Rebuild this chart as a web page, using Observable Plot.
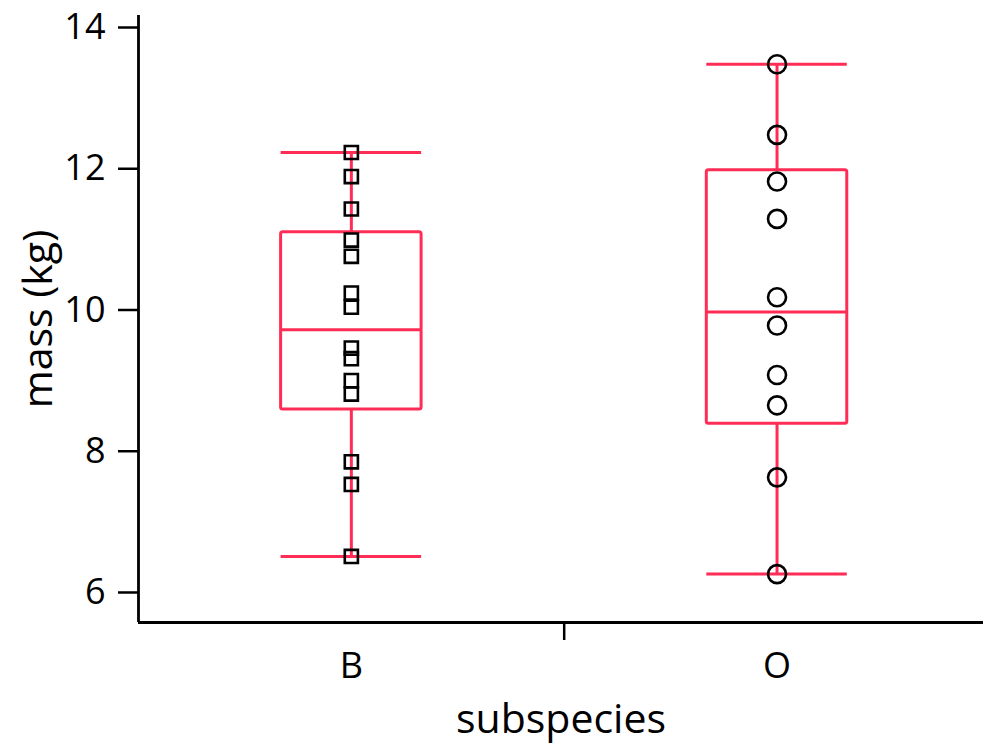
<!DOCTYPE html>
<html>
<head>
<meta charset="utf-8">
<script src="https://cdn.jsdelivr.net/npm/d3@7"></script>
<script src="https://cdn.jsdelivr.net/npm/@observablehq/plot@0.6"></script>
<style>
  html, body { margin: 0; padding: 0; background: #fff; }
  #chart svg { display: block; }
  #chart [aria-label="y-axis tick label"] text,
  #chart [aria-label="x-axis tick label"] text { font-size: 36px; }
</style>
</head>
<body>
<div id="chart"></div>
<script>
// ---- data ----
const subspecies = ["B", "O"];
const massB = [12.23, 11.89, 11.43, 10.99, 10.76, 10.24, 10.04, 9.46, 9.31, 9.00, 8.81, 7.85, 7.53, 6.51];
const massO = [13.48, 12.48, 11.82, 11.29, 10.18, 9.78, 9.08, 8.65, 7.63, 6.26];
const whiskerLow  = [6.51, 6.26];
const boxLow      = [8.59, 8.39];
const boxMedian   = [9.72, 9.97];
const boxHigh     = [11.10, 11.98];
const whiskerHigh = [12.23, 13.48];
const yTicks = [6, 8, 10, 12, 14];
const yLabel = "mass (kg)";
const xLabel = "subspecies";

// ---- tables built from the arrays ----
const stats = subspecies.map((s, k) => ({
  i: k + 1, s,
  lo: whiskerLow[k], q1: boxLow[k], med: boxMedian[k], q3: boxHigh[k], hi: whiskerHigh[k]
}));
const ptsB = massB.map(m => ({i: 1, mass: m}));
const ptsO = massO.map(m => ({i: 2, mass: m}));

const red = "#ff2d55";
const hw = 0.165;       // half box width in category units
const yMin = 5.575, yMax = 14.17;

const chart = Plot.plot({
  width: 983,
  height: 744,
  marginLeft: 138,
  marginRight: 0,
  marginTop: 15,
  marginBottom: 122,
  style: {fontFamily: "'Open Sans', sans-serif", background: "white", color: "black"},
  x: {domain: [0.5, 2.485]},
  y: {domain: [yMin, yMax]},
  marks: [
    Plot.axisY({ticks: yTicks, tickSize: 20, tickPadding: 13, strokeWidth: 2.5, label: null}),
    Plot.axisX({ticks: [1.5], tickSize: 18, strokeWidth: 2.5, tickFormat: () => "", label: null}),
    Plot.axisX({ticks: stats.map(d => d.i), tickSize: 0, tickPadding: 30,
      tickFormat: i => subspecies[i - 1], label: null}),
    Plot.text([yLabel], {frameAnchor: "left", rotate: -90, dx: -100, fontSize: 41,
      textAnchor: "middle", lineAnchor: "middle", fill: "black"}),
    Plot.text([xLabel], {frameAnchor: "bottom", dy: 97, fontSize: 41,
      textAnchor: "middle", lineAnchor: "middle", fill: "black"}),
    Plot.ruleY([yMin], {stroke: "black", strokeWidth: 2.8}),
    Plot.ruleX([0.5], {stroke: "black", strokeWidth: 2.8}),
    // whiskers
    Plot.ruleX(stats, {x: "i", y1: "lo", y2: "q1", stroke: red, strokeWidth: 3}),
    Plot.ruleX(stats, {x: "i", y1: "q3", y2: "hi", stroke: red, strokeWidth: 3}),
    Plot.ruleY(stats, {y: "lo", x1: d => d.i - hw, x2: d => d.i + hw, stroke: red, strokeWidth: 3}),
    Plot.ruleY(stats, {y: "hi", x1: d => d.i - hw, x2: d => d.i + hw, stroke: red, strokeWidth: 3}),
    // boxes
    Plot.rect(stats, {x1: d => d.i - hw, x2: d => d.i + hw, y1: "q1", y2: "q3",
      fill: "none", stroke: red, strokeWidth: 3, rx: 2}),
    Plot.ruleY(stats, {y: "med", x1: d => d.i - hw, x2: d => d.i + hw, stroke: red, strokeWidth: 3}),
    // points
    Plot.dot(ptsB, {x: "i", y: "mass", symbol: "square", r: 7.4, stroke: "black", strokeWidth: 2.6, fill: "none"}),
    Plot.dot(ptsO, {x: "i", y: "mass", symbol: "circle", r: 9, stroke: "black", strokeWidth: 2.6, fill: "none"})
  ]
});
document.getElementById("chart").appendChild(chart);
</script>
</body>
</html>
